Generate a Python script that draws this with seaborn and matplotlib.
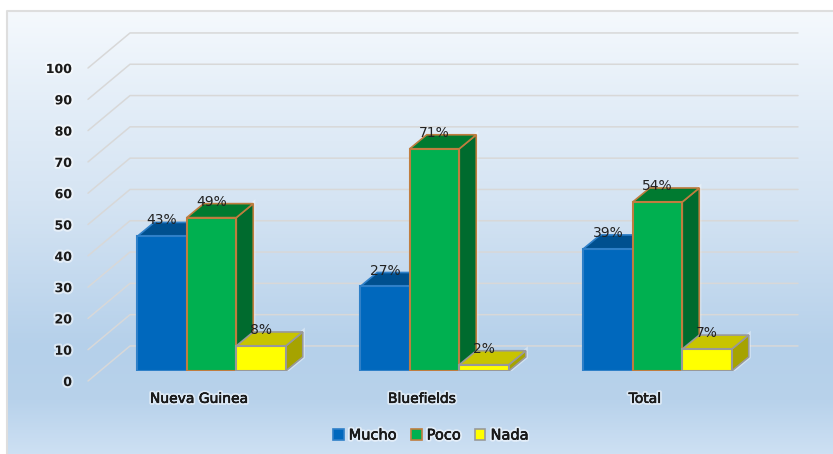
import matplotlib
matplotlib.use("Agg")
import matplotlib.pyplot as plt
import matplotlib.patheffects as pe
from matplotlib.colors import LinearSegmentedColormap
from matplotlib.patches import Polygon
from matplotlib.transforms import ScaledTranslation
import numpy as np
import pandas as pd
import seaborn as sns

# Data
places = ["Nueva Guinea", "Bluefields", "Total"]
levels = ["Mucho", "Poco", "Nada"]
mucho = [43, 27, 39]
poco = [49, 71, 54]
nada = [8, 2, 7]
y_ticks = list(range(0, 101, 10))

# Colours per level
front_colors = ["#0068bd", "#00b050", "#ffff00"]
top_colors = ["#00508f", "#007a30", "#c8c400"]
side_colors = ["#004c86", "#006b2e", "#a6a300"]
edge_colors = ["#2f80c8", "#bf7d3f", "#999999"]

W, H, DPI = 833, 454, 100
sns.set_theme(style="white")

df = pd.DataFrame({
    "place": places * 3,
    "level": np.repeat(levels, 3),
    "value": mucho + poco + nada,
})

fig = plt.figure(figsize=(W / DPI, H / DPI), dpi=DPI, facecolor="white")

# Panel with the vertical gradient, border only on top and left
bg = fig.add_axes([0, 0, 1, 1])
bg.axis("off")
grad = LinearSegmentedColormap.from_list("panel", [
    (0.0, "#f5f9fd"), (0.2, "#e4eef8"), (0.43, "#d5e4f3"),
    (0.76, "#b5d0ea"), (0.88, "#b8d2eb"), (1.0, "#cde0f3"),
])
bg.imshow(np.linspace(0, 1, 256).reshape(-1, 1), cmap=grad, aspect="auto",
          extent=(7, W, H, 11), zorder=0)
bg.plot([7, 7, W], [H, 11, 11], color="#dedede", lw=1.5, zorder=1)
bg.set_xlim(0, W)
bg.set_ylim(H, 0)

# Bar plane: left 88 px, right 798 px, zero at y=371 px, 100 at y=58 px
ax = fig.add_axes([88 / W, 1 - 371 / H, 710 / W, 313 / H])
ax.patch.set_visible(False)
sns.barplot(data=df, x="place", y="value", hue="level", order=places, hue_order=levels,
            palette=front_colors, width=0.666, gap=0, saturation=1, ax=ax)
ax.set_xlim((88 - 211.5) / 223, (798 - 211.5) / 223)
ax.set_ylim(0, 100)
sns.despine(ax=ax, left=True, bottom=True)
ax.set_xlabel("")
ax.set_ylabel("")

# Back wall lines (11.2 units of depth, front edge sits 3.2 below the bars)
for v in y_ticks:
    ax.plot([0, 42 / 710, 1], [v - 3.2, v + 8, v + 8], transform=ax.get_yaxis_transform(),
            color="#d8d8d8", lw=1.1, clip_on=False, zorder=1)

# 3D faces built from the bars seaborn drew
dx = 17 / 223
dy = 14 / 3.13
halo = [pe.withStroke(linewidth=3, foreground="white", alpha=0.4)]
for i, container in enumerate(ax.containers):
    for bar in container:
        x, w, h = bar.get_x(), bar.get_width(), bar.get_height()
        top = Polygon([(x, h), (x + dx, h + dy), (x + w + dx, h + dy), (x + w, h)],
                      fc=top_colors[i], ec=edge_colors[i], lw=1.2, zorder=3 + 2 * i)
        side = Polygon([(x + w, 0), (x + w + dx, dy), (x + w + dx, h + dy), (x + w, h)],
                       fc=side_colors[i], ec=edge_colors[i], lw=1.2, zorder=3 + 2 * i)
        side.set_path_effects(halo)
        ax.add_patch(side)
        ax.add_patch(top)
        bar.set_edgecolor(edge_colors[i])
        bar.set_linewidth(1.5)
        bar.set_zorder(4 + 2 * i)
        ax.annotate(f"{h:.0f}%", (x + w / 2, h), xytext=(0, 11.5), textcoords="offset points",
                    ha="center", va="center", fontsize=10, color="#222222", zorder=20,
                    annotation_clip=False)

glow = [pe.withStroke(linewidth=3, foreground="white", alpha=0.5),
        pe.withStroke(linewidth=0.35, foreground="#1a1a1a")]

# Axis labels, nudged the way the 3D projection does
ax.set_yticks(y_ticks)
ax.set_yticklabels([str(v) for v in y_ticks], fontsize=9, fontweight="bold", color="#1a1a1a")
ax.tick_params(axis="y", length=0, pad=11.5)
ax.tick_params(axis="x", length=0, pad=15)
for lab in ax.get_yticklabels():
    lab.set_transform(lab.get_transform() + ScaledTranslation(0, -10 / DPI, fig.dpi_scale_trans))
    lab.set_path_effects([pe.withStroke(linewidth=3, foreground="white", alpha=0.5)])
ax.set_xticks(range(len(places)))
ax.set_xticklabels(places, fontsize=10, color="#1a1a1a")
for lab in ax.get_xticklabels():
    lab.set_transform(lab.get_transform() + ScaledTranslation(-12.5 / DPI, 0, fig.dpi_scale_trans))
    lab.set_path_effects(glow)

# Legend
handles, labels = ax.get_legend_handles_labels()
for h, ec in zip(handles, edge_colors):
    h.set_edgecolor(ec)
    h.set_linewidth(1.2)
leg = ax.legend(handles, labels, ncols=3, frameon=False, loc="center",
                bbox_to_anchor=(431 / W, 1 - 435 / H), bbox_transform=fig.transFigure,
                fontsize=10.5, handlelength=0.7, handleheight=0.7, handletextpad=0.35,
                columnspacing=1.0, labelcolor="#1a1a1a")
for t in leg.get_texts():
    t.set_path_effects(glow)

fig.savefig("out.png", dpi=DPI)
